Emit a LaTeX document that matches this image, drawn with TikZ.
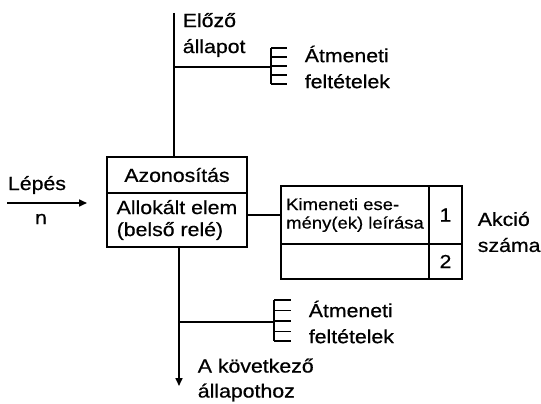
\documentclass[tikz,border=0pt]{standalone}
\usepackage{fontspec}
\setmainfont{Liberation Sans}[FakeStretch=1.12,FakeBold=0.6]
\usetikzlibrary{arrows.meta}
\begin{document}
\begin{tikzpicture}[x=1pt,y=-1pt,line width=1.6pt,
  lbl/.style={inner sep=0pt,font=\fontsize{19}{26}\selectfont,align=left},
  cell/.style={draw,inner sep=0pt,font=\fontsize{19}{22}\selectfont},
  small/.style={draw,inner sep=0pt,font=\fontsize{16.5}{18.5}\selectfont},
  tip/.style={-{Triangle[length=8pt,width=7pt]}}]
\useasboundingbox (0,0) rectangle (541,404);
% main box
\node[cell,minimum width=140pt,minimum height=36pt] (ident) at (177,175) {Azonosítás};
\node[cell,minimum width=140pt,minimum height=54pt,align=left] (alloc) at (177,220) {Allokált elem\\(belső relé)};
% right box
\node[small,minimum width=148pt,minimum height=58pt,align=left] (kim) at (355,215) {Kimeneti ese-\\mény(ek) leírása};
\node[small,minimum width=33pt,minimum height=58pt,font=\fontsize{19}{21}\selectfont] (n1) at (445.5,215) {1};
\node[small,minimum width=148pt,minimum height=35pt] (emp) at (355,261.5) {};
\node[small,minimum width=33pt,minimum height=35pt,font=\fontsize{19}{21}\selectfont] (n2) at (445.5,261.5) {2};
% labels
\node[lbl,anchor=west] (prev) at (182,35) {Előző\\állapot};
\node[lbl,anchor=west] (cond1) at (304,67) {Átmeneti\\feltételek};
\node[lbl,anchor=west] (cond2) at (308,322) {Átmeneti\\feltételek};
\node[lbl,anchor=west,font=\fontsize{19}{25}\selectfont] (next) at (197,380) {A következő\\állapothoz};
\node[lbl] (step) at (37,185) {Lépés};
\node[lbl] (nn) at (41,219) {n};
\node[lbl,anchor=west] (act) at (477,232) {Akció\\száma};
% coordinates
\coordinate (top) at (174,13);
\coordinate (b1) at (174,67);
\coordinate (c1) at (271,67);
\coordinate (b2) at (179,322);
\coordinate (c2) at (274,322);
\coordinate (bot) at (179,386);
\coordinate (lin) at (7,203);
\coordinate (lout) at (87,203);
% connectors
\draw (top) -- (top |- ident.north);
\draw (b1) -- (c1);
\draw (271,48) -- (271,84);
\foreach \y in {48,57,66,75,84} \draw[line width=1.3pt] (271,\y) -- (287,\y);
\draw[tip] (alloc.south -| bot) -- (bot);
\draw (b2) -- (c2);
\draw (274,300) -- (274,341);
\foreach \y in {300,310.5,321,331.5,341} \draw[line width=1.3pt] (274,\y) -- (291,\y);
\draw[tip] (lin) -- (lout);
\draw (alloc.east |- kim.west) -- (kim.west);
\end{tikzpicture}
\end{document}
